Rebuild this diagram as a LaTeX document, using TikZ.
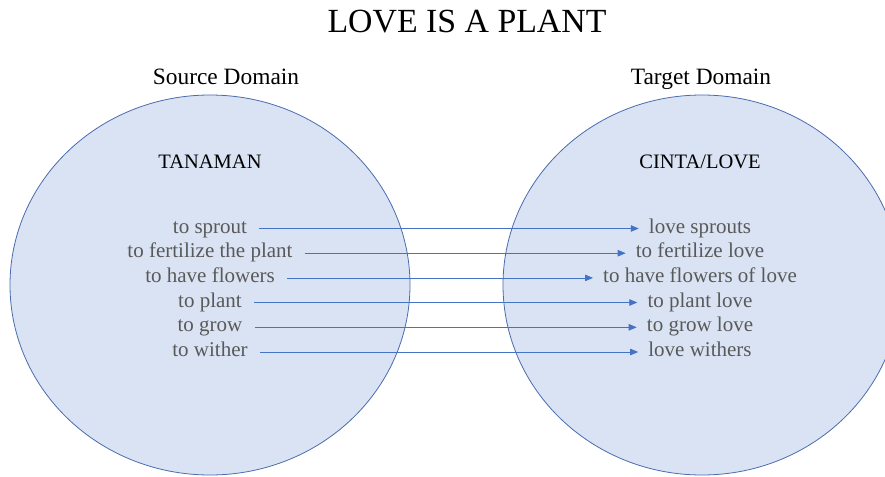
\documentclass[tikz,border=0pt]{standalone}
\usepackage{fontspec}
\setmainfont{Liberation Serif}
\usetikzlibrary{arrows.meta}
\definecolor{fillblue}{HTML}{DAE3F3}
\definecolor{edgeblue}{HTML}{4A6CAE}
\definecolor{arrblue}{HTML}{4472C4}
\definecolor{itemgray}{HTML}{595959}
\begin{document}
\begin{tikzpicture}[x=1pt,y=-1pt,
  domainshape/.style={fill=fillblue,draw=edgeblue,line width=0.8pt},
  titletext/.style={anchor=base,inner sep=0pt,font=\fontsize{33.8}{36}\selectfont},
  headtext/.style={anchor=base,inner sep=0pt,font=\fontsize{23.4}{26}\selectfont},
  conctext/.style={anchor=base,inner sep=0pt,font=\fontsize{20.5}{24}\selectfont},
  itemtext/.style={anchor=base,inner sep=0pt,text=itemgray,font=\fontsize{21}{24}\selectfont},
  maparrow/.style={draw=arrblue,line width=0.8pt,-{Triangle[length=8pt,width=6.5pt]}}]
\fill[white] (0,0) rectangle (885,476);
\begin{scope}
\clip (0,0) rectangle (885,476);
\draw[domainshape] (210,285) ellipse [x radius=200, y radius=190];
\draw[domainshape] (702,285) ellipse [x radius=199, y radius=190];
\end{scope}
\node[titletext] (title) at (467,33) {LOVE IS A PLANT};
\node[headtext] (src) at (226,85) {Source Domain};
\node[headtext] (tgt) at (701,85) {Target Domain};
\node[conctext] (tan) at (210,168) {TANAMAN};
\node[conctext] (cin) at (700,168) {CINTA/LOVE};
\node[itemtext] (s1) at (210,233) {to sprout};
\node[itemtext] (s2) at (210,257.7) {to fertilize the plant};
\node[itemtext] (s3) at (210,282.4) {to have flowers};
\node[itemtext] (s4) at (210,307) {to plant};
\node[itemtext] (s5) at (210,331.8) {to grow};
\node[itemtext] (s6) at (210,356.5) {to wither};
\node[itemtext] (t1) at (700,233) {love sprouts};
\node[itemtext] (t2) at (700,257.7) {to fertilize love};
\node[itemtext] (t3) at (700,282.4) {to have flowers of love};
\node[itemtext] (t4) at (700,307) {to plant love};
\node[itemtext] (t5) at (700,331.8) {to grow love};
\node[itemtext] (t6) at (700,356.5) {love withers};
\foreach \i in {1,...,6}{
  \draw[maparrow] ([shift={(12pt,4.5pt)}]s\i.base east) -- ([shift={(-10pt,4.5pt)}]t\i.base west);
}
\pgfresetboundingbox
\path[use as bounding box] (0,0) rectangle (885,476);
\end{tikzpicture}
\end{document}
